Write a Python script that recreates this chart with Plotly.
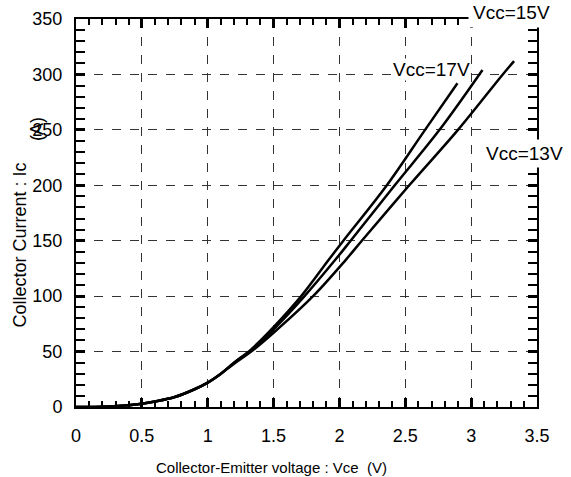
import plotly.graph_objects as go

# Data
v17 = [0, 0.25, 0.5, 0.6, 0.75, 0.9, 1.0, 1.1, 1.2, 1.33, 1.5, 1.71, 1.92, 2.03, 2.36, 2.65, 2.896]
i17 = [0, 0.5, 3, 5, 9, 16, 22, 30, 40, 52, 72, 100, 133, 150, 200, 250, 292]
v15 = [0, 0.25, 0.5, 0.6, 0.75, 0.9, 1.0, 1.1, 1.2, 1.33, 1.5, 1.735, 1.97, 2.085, 2.42, 2.76, 3.086]
i15 = [0, 0.5, 3, 5, 9, 16, 22, 30, 40, 51, 70, 100, 133, 150, 200, 250, 304]
v13 = [0, 0.25, 0.5, 0.6, 0.75, 0.9, 1.0, 1.1, 1.2, 1.33, 1.5, 1.80, 2.05, 2.17, 2.53, 2.90, 3.24, 3.326]
i13 = [0, 0.5, 3, 5, 9, 16, 22, 30, 39, 50, 67, 100, 133, 150, 200, 250, 300, 312]

x_ticks = [0, 0.5, 1, 1.5, 2, 2.5, 3, 3.5]
x_labels = ["0", "0.5", "1", "1.5", "2", "2.5", "3", "3.5"]
y_ticks = [0, 50, 100, 150, 200, 250, 300, 350]
x_range = [0, 3.5]
y_range = [0, 350]

fig = go.Figure()
# empty trace that carries the secondary x axis used for the minor x ticks
fig.add_trace(go.Scatter(x=[None], y=[None], xaxis="x2", yaxis="y",
                         showlegend=False, hoverinfo="skip"))
for vx, iy in [(v17, i17), (v15, i15), (v13, i13)]:
    fig.add_trace(go.Scatter(x=vx, y=iy, mode="lines",
                             line=dict(color="black", width=2.5, shape="spline", smoothing=1.0),
                             showlegend=False, hoverinfo="skip"))

font = "Liberation Sans, Arial, sans-serif"
fig.update_xaxes(range=x_range, tickmode="array", tickvals=x_ticks, ticktext=x_labels,
                 showline=True, linecolor="black", linewidth=2, mirror="allticks",
                 ticks="inside", ticklen=9, tickwidth=3, tickcolor="black",
                 showgrid=True, gridcolor="#333333", gridwidth=1, griddash="dash",
                 zeroline=False, automargin=False,
                 tickfont=dict(family=font, size=18, color="black"),
                 ticklabelstandoff=11, selector=dict(overlaying=None))
fig.update_yaxes(range=y_range, tickmode="array", tickvals=y_ticks,
                 showline=True, linecolor="black", linewidth=2, mirror="allticks",
                 ticks="inside", ticklen=9, tickwidth=3, tickcolor="black",
                 showgrid=True, gridcolor="#333333", gridwidth=1, griddash="dash",
                 zeroline=False, automargin=False,
                 tickfont=dict(family=font, size=18, color="black"),
                 ticklabelstandoff=8,
                 minor=dict(tickmode="linear", tick0=0, dtick=10, ticks="inside", ticklen=6,
                            tickwidth=2, tickcolor="black", showgrid=False))

ann_font = dict(family=font, size=19, color="black")
fig.update_layout(
    width=571, height=477,
    margin=dict(l=76, r=34, t=19, b=70),
    paper_bgcolor="white", plot_bgcolor="white",
    xaxis2=dict(range=x_range, overlaying="x", side="bottom", anchor="y",
                tickmode="linear", tick0=0, dtick=0.1,
                ticks="inside", ticklen=6, tickwidth=2, tickcolor="black",
                showticklabels=False, showgrid=False, zeroline=False, automargin=False,
                showline=True, linecolor="black", linewidth=2, mirror="allticks"),
    annotations=[
        dict(text="Vcc=15V", xref="paper", yref="paper", x=1.04, y=1.017, showarrow=False,
             font=ann_font, bgcolor="white", xanchor="right", yanchor="middle", borderpad=4),
        dict(text="Vcc=17V", xref="x", yref="y", x=3.0, y=304, showarrow=False,
             font=ann_font, bgcolor="white", xanchor="right", yanchor="middle", borderpad=0),
        dict(text="Vcc=13V", xref="paper", yref="y", x=1.066, y=229, showarrow=False,
             font=ann_font, bgcolor="white", xanchor="right", yanchor="middle", borderpad=3),
        dict(text="Collector Current : Ic", xref="paper", yref="paper", x=-0.122, y=0.418,
             textangle=-90, showarrow=False, font=dict(family=font, size=18, color="black"),
             xanchor="center", yanchor="middle"),
        dict(text="(A)", xref="paper", yref="paper", x=-0.085, y=0.716,
             textangle=-90, showarrow=False, font=dict(family=font, size=18, color="black"),
             xanchor="center", yanchor="middle"),
        dict(text="Collector-Emitter voltage : Vce  (V)", xref="paper", yref="paper",
             x=0.425, y=-0.155, showarrow=False, font=dict(family=font, size=15, color="black"),
             xanchor="center", yanchor="middle"),
        dict(text="Tj=125 (°C)", xref="paper", yref="paper", x=0.5, y=1.049, showarrow=False,
             font=dict(family=font, size=16, color="black"), xanchor="center", yanchor="bottom"),
    ],
)
fig.write_html("out.html")
